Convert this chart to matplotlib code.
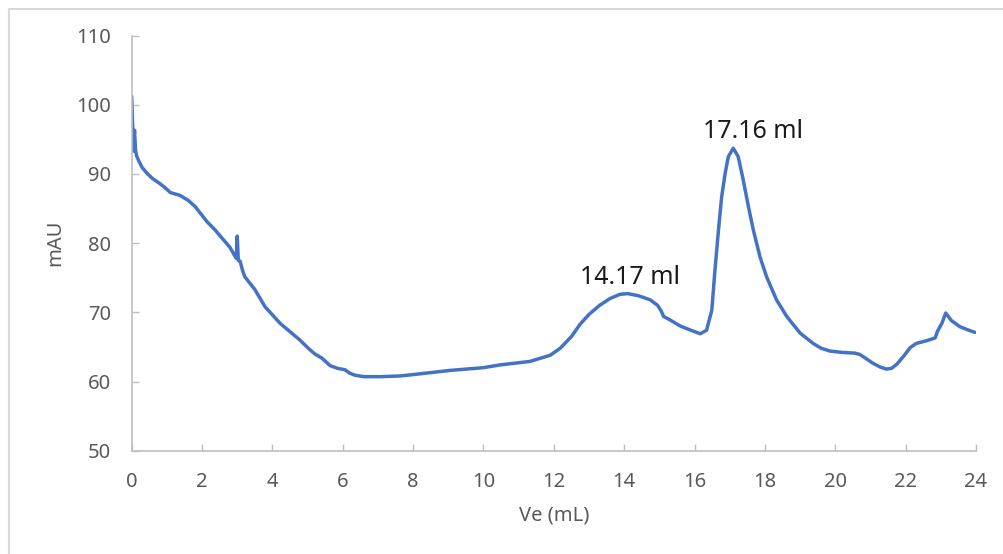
import matplotlib
matplotlib.use("Agg")
import matplotlib.pyplot as plt
from matplotlib.patches import Rectangle

ve = [0.0, 0.02, 0.05, 0.08, 0.11, 0.14, 0.2, 0.3, 0.45, 0.6, 0.8, 0.95, 1.1, 1.37, 1.6, 1.8,
      1.94, 2.14, 2.37, 2.79, 2.97, 3.0, 3.03, 3.08, 3.16, 3.22, 3.5, 3.79, 4.22, 4.5, 4.78,
      5.0, 5.2, 5.4, 5.64, 5.85, 6.06, 6.2, 6.35, 6.6, 7.08, 7.63, 8.0, 9.05, 10.0, 10.47,
      11.32, 11.9, 12.18, 12.5, 12.75, 13.0, 13.3, 13.6, 13.88, 14.1, 14.4, 14.74, 14.95,
      15.05, 15.12, 15.3, 15.6, 15.9, 16.16, 16.34, 16.49, 16.58, 16.68, 16.77, 16.87, 16.96,
      17.1, 17.24, 17.38, 17.53, 17.67, 17.86, 18.05, 18.33, 18.62, 19.0, 19.37, 19.6, 19.85,
      20.2, 20.56, 20.7, 20.85, 21.05, 21.27, 21.45, 21.6, 21.75, 21.95, 22.13, 22.3, 22.6,
      22.84, 22.9, 23.03, 23.14, 23.3, 23.55, 23.8, 23.97]
mau = [101.2, 98.0, 93.3, 96.3, 93.4, 92.6, 91.9, 90.9, 90.0, 89.3, 88.6, 88.0, 87.3, 86.9, 86.2, 85.3,
       84.4, 83.1, 81.9, 79.4, 77.8, 81.0, 77.5, 77.4, 75.9, 75.1, 73.3, 70.8, 68.4, 67.2, 66.0,
       64.9, 64.0, 63.4, 62.3, 61.9, 61.7, 61.2, 60.9, 60.7, 60.7, 60.8, 61.0, 61.6, 62.0, 62.4,
       62.9, 63.8, 64.8, 66.5, 68.3, 69.7, 71.0, 72.0, 72.6, 72.7, 72.4, 71.8, 71.0,
       70.2, 69.4, 68.9, 68.0, 67.4, 66.9, 67.4, 70.3, 76.1, 81.9, 86.7, 90.1, 92.5,
       93.7, 92.5, 89.2, 85.3, 81.9, 78.0, 75.1, 71.8, 69.4, 67.0, 65.5, 64.8, 64.4,
       64.2, 64.1, 63.9, 63.4, 62.7, 62.1, 61.8, 61.9, 62.5, 63.7, 64.9, 65.5, 65.9,
       66.3, 67.2, 68.4, 69.9, 68.8, 67.9, 67.4, 67.1]

x_ticks = list(range(0, 25, 2))
y_ticks = list(range(50, 111, 10))
peak_labels = ["14.17 ml", "17.16 ml"]
peak_label_pos = [(14.16, 75.1), (17.66, 96.1)]

plt.rcParams['font.family'] = ['Noto Sans', 'DejaVu Sans']

fig = plt.figure(figsize=(10.04, 5.54), dpi=100)
fig.patches.append(Rectangle((9 / 1004, -0.1), 1.2, 1.1 - 9 / 554, transform=fig.transFigure,
                             fill=False, edgecolor='#D9D9D9', linewidth=1.5))
ax = fig.add_axes([131.7 / 1004, 1 - 450.7 / 554, (976 - 131.7) / 1004, (450.7 - 35.5) / 554])

ax.plot(ve, mau, color='#4472C4', linewidth=2.5, solid_joinstyle='round', solid_capstyle='round')

ax.set_xlim(0, 24)
ax.set_ylim(50, 110)
ax.set_xticks(x_ticks)
ax.set_yticks(y_ticks)
for s in ['top', 'right']:
    ax.spines[s].set_visible(False)
for s in ['left', 'bottom']:
    ax.spines[s].set_color('#BFBFBF')
    ax.spines[s].set_linewidth(1.2)
ax.tick_params(axis='both', direction='in', colors='#BFBFBF', labelcolor='#595959',
               labelsize=14.5, length=5, width=1.0)
ax.tick_params(axis='x', pad=15)
ax.tick_params(axis='y', pad=15)

ax.set_xlabel('Ve (mL)', fontsize=14.5, color='#595959', labelpad=10)
ax.set_ylabel('mAU', fontsize=14.5, color='#595959', labelpad=8)

for lab, (px, py) in zip(peak_labels, peak_label_pos):
    ax.text(px, py, lab, fontsize=18, color='#1a1a1a', ha='center', va='center')

fig.savefig('out.png', dpi=100)
